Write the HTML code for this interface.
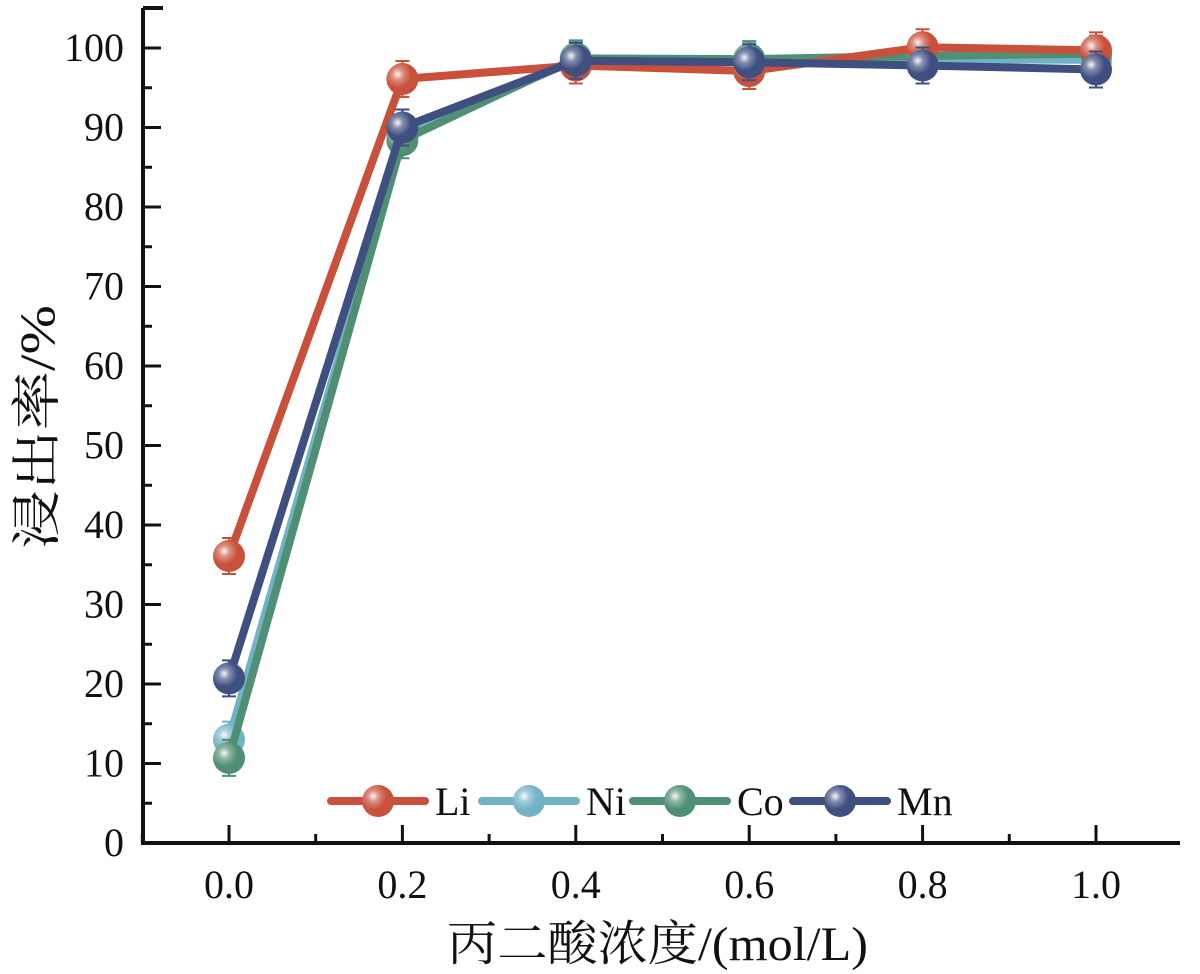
<!DOCTYPE html>
<html><head><meta charset="utf-8"><style>
body{margin:0;background:#fff}
svg{display:block}
text{font-family:"Liberation Serif","Noto Serif CJK SC",serif;fill:#111}
</style></head><body>
<svg id="c" width="1200" height="974">
<defs>
<radialGradient id="g" cx="0.35" cy="0.35" r="0.7">
<stop offset="0" stop-color="#fff" stop-opacity="0.95"/>
<stop offset="0.25" stop-color="#fff" stop-opacity="0.35"/>
<stop offset="0.6" stop-color="#fff" stop-opacity="0"/>
</radialGradient>
</defs>
</svg>
<script>
const categories=[0.0,0.2,0.4,0.6,0.8,1.0];
const liValues=[36.1,96.1,97.8,97.1,100.1,99.7];
const niValues=[13.0,89.0,98.5,98.4,98.6,98.5];
const coValues=[10.7,88.4,98.7,98.6,99.0,99.3];
const mnValues=[20.7,90.0,98.4,98.2,97.8,97.3];
const seriesNames=["Li","Ni","Co","Mn"];
const yTicks=[0,10,20,30,40,50,60,70,80,90,100];
const xTicks=["0.0","0.2","0.4","0.6","0.8","1.0"];
const colors=["#c9503a","#72b2c5","#4f8f73","#3e4f80"];
const NS="http://www.w3.org/2000/svg";
const svg=document.getElementById('c');
const X=v=>229+(v)*867;
const Y=v=>843-v*7.95;
function mk(t,a,p){const e=document.createElementNS(NS,t);for(const k in a)e.setAttribute(k,a[k]);(p||svg).appendChild(e);return e;}
let ax=mk('path',{d:`M143,8 L143,843 L1180,843`,fill:'none',stroke:'#111','stroke-width':4});


mk('line',{x1:143,y1:8,x2:163,y2:8,stroke:'#111','stroke-width':4});
for(let v=0;v<=100;v+=5){const major=v%10===0;
 const t=mk('line',{x1:143,y1:Y(v),x2:143+(major?18:9),y2:Y(v),stroke:'#111','stroke-width':3});
 
 }
yTicks.forEach(v=>{const t=mk('text',{x:124,y:Y(v)+13,'text-anchor':'end','font-size':40});t.textContent=v;
 
 });
for(let i=-1;i<=10;i++){const v=i/10;const major=i>=0&&i%2===0;
 const t=mk('line',{x1:X(v),y1:843,x2:X(v),y2:843-(major?18:9),stroke:'#111','stroke-width':3});
 
 }
xTicks.forEach((s,i)=>{const t=mk('text',{x:X(categories[i]),y:898,'text-anchor':'middle','font-size':40});t.textContent=s;
 
 });
let xt=mk('text',{x:447,y:960,'font-size':48,textLength:421,lengthAdjust:'spacingAndGlyphs'});xt.textContent='丙二酸浓度/(mol/L)';


let yt=mk('text',{x:-122,y:0,'font-size':50,textLength:244,lengthAdjust:'spacingAndGlyphs',transform:'translate(54,427) rotate(-90)'});yt.textContent='浸出率/%';


const all=[liValues,niValues,coValues,mnValues];
function marker(x,y,c,g){mk('circle',{cx:x,cy:y,r:16,fill:c},g);mk('circle',{cx:x,cy:y,r:16,fill:'url(#g)'},g);}
[1,2,0,3].forEach(s=>{
 const g=mk('g',{});
 
 
 const vals=all[s];
 mk('polyline',{points:vals.map((v,i)=>X(categories[i])+','+Y(v)).join(' '),fill:'none',stroke:colors[s],'stroke-width':8,'stroke-linejoin':'round'},g);
 vals.forEach((v,i)=>{
  mk('path',{d:`M${X(categories[i])},${Y(v)-18}v36M${X(categories[i])-7},${Y(v)-18}h14M${X(categories[i])-7},${Y(v)+18}h14`,stroke:colors[s],'stroke-width':2,fill:'none'},g);
  marker(X(categories[i]),Y(v),colors[s],g);});
});
const lx=[331,482,633,793];
seriesNames.forEach((n,i)=>{
 const g=mk('g',{});
 
 
 mk('line',{x1:lx[i],y1:801,x2:lx[i]+94,y2:801,stroke:colors[i],'stroke-width':8,'stroke-linecap':'round'},g);
 marker(lx[i]+47,801,colors[i],g);
 const t=mk('text',{x:lx[i]+104,y:815,'font-size':40},g);t.textContent=n;
});
</script>
</body></html>
